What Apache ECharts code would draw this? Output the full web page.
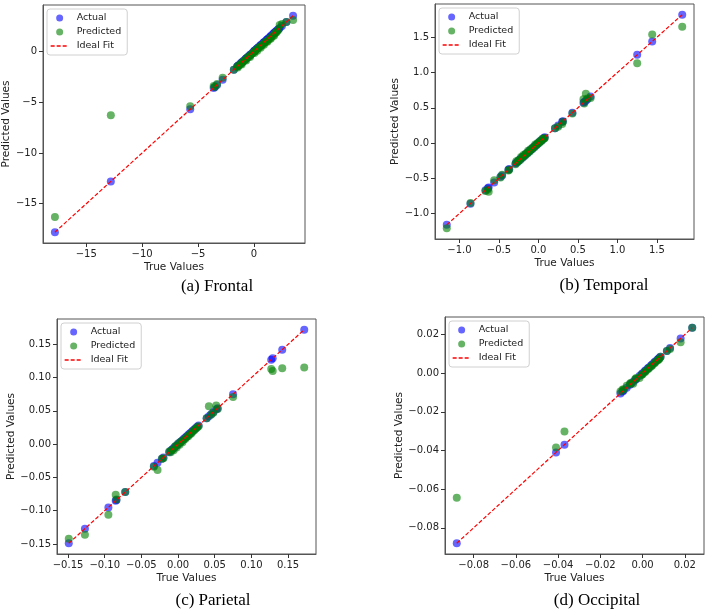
<!DOCTYPE html>
<html>
<head>
<meta charset="utf-8">
<script src="https://cdn.jsdelivr.net/npm/echarts@6/dist/echarts.min.js"></script>
<style>
    html, body { margin: 0; padding: 0; background: #fff; }
    #chart { width: 708px; height: 611px; }
</style>
</head>
<body>
<div id="chart"></div>
<script>
// (a) Frontal
var frontalTrue = [-17.8, -12.8, -5.7, -3.6, -3.5, -3.3, -2.8, -1.8, -1.5, -1.35, -1.2, -1.05, -0.9, -0.75, -0.6, -0.45, -0.3, -0.15, 0.0, 0.1, 0.25, 0.4, 0.55, 0.7, 0.85, 1.0, 1.15, 1.3, 1.45, 1.6, 1.75, 1.9, 2.1, 2.3, 2.5, 2.9, 3.5,
    -1.45, -1.1, -0.7, -0.35, 0.05, 0.3, 0.6, 0.9, 1.2, 1.5, 1.8, 2.0, 2.2];
var frontalPred = [-16.3, -6.3, -5.4, -3.4, -3.5, -3.2, -2.6, -1.8, -1.5, -1.4, -1.25, -1.1, -0.95, -0.8, -0.6, -0.5, -0.35, -0.2, -0.05, 0.05, 0.2, 0.35, 0.45, 0.6, 0.75, 0.9, 1.0, 1.15, 1.3, 1.45, 1.6, 1.8, 2.0, 2.6, 2.7, 2.9, 3.1,
    -1.6, -1.3, -0.9, -0.55, -0.15, 0.05, 0.35, 0.65, 0.95, 1.25, 1.55, 1.85, 2.15];
var frontalTicks = [-15, -10, -5, 0];

// (b) Temporal
var temporalTrue = [-1.16, -0.86, -0.67, -0.64, -0.63, -0.56, -0.48, -0.46, -0.38, -0.37, -0.29, -0.26, -0.23, -0.2, -0.17, -0.14, -0.11, -0.08, -0.05, -0.02, 0.01, 0.04, 0.07, 0.08, 0.21, 0.25, 0.30, 0.31, 0.43, 0.57, 0.58, 0.60, 0.62, 0.66, 1.25, 1.44, 1.82,
    -0.28, -0.25, -0.22, -0.19, -0.16, -0.13, -0.1, -0.07, -0.04, -0.01, 0.02, 0.05];
var temporalPred = [-1.21, -0.85, -0.68, -0.66, -0.69, -0.53, -0.49, -0.45, -0.39, -0.38, -0.30, -0.27, -0.24, -0.21, -0.18, -0.15, -0.12, -0.09, -0.06, -0.03, 0.0, 0.03, 0.06, 0.07, 0.21, 0.23, 0.27, 0.30, 0.42, 0.62, 0.56, 0.70, 0.63, 0.64, 1.13, 1.54, 1.65,
    -0.26, -0.24, -0.20, -0.17, -0.15, -0.11, -0.09, -0.06, -0.02, 0.0, 0.03, 0.06];
var temporalTicks = [-1.0, -0.5, 0.0, 0.5, 1.0, 1.5];

// (c) Parietal
var parietalTrue = [-0.149, -0.127, -0.095, -0.085, -0.084, -0.072, -0.033, -0.028, -0.022, -0.020, -0.012, -0.008, -0.004, 0.0, 0.004, 0.008, 0.012, 0.016, 0.020, 0.024, 0.028, 0.039, 0.042, 0.045, 0.048, 0.052, 0.054, 0.075, 0.127, 0.129, 0.142, 0.172,
    -0.010, -0.006, -0.002, 0.002, 0.006, 0.010, 0.014, 0.018, 0.022, 0.026];
var parietalPred = [-0.142, -0.136, -0.106, -0.076, -0.083, -0.072, -0.034, -0.039, -0.022, -0.021, -0.011, -0.008, -0.003, 0.001, 0.004, 0.007, 0.011, 0.015, 0.019, 0.023, 0.027, 0.039, 0.057, 0.044, 0.047, 0.058, 0.053, 0.071, 0.113, 0.110, 0.114, 0.115,
    -0.012, -0.009, -0.005, -0.001, 0.003, 0.008, 0.012, 0.016, 0.021, 0.025];
var parietalTicks = [-0.15, -0.10, -0.05, 0.0, 0.05, 0.10, 0.15];

// (d) Occipital
var occipitalTrue = [-0.088, -0.041, -0.037, -0.0105, -0.0095, -0.009, -0.006, -0.0045, -0.003, -0.0015, 0.0, 0.0015, 0.003, 0.0045, 0.006, 0.0075, 0.0085, 0.0115, 0.013, 0.018, 0.0235,
    -0.0075, -0.0055, -0.0035, -0.0005, 0.001, 0.0025, 0.004, 0.0055, 0.007, 0.008];
var occipitalPred = [-0.0645, -0.0385, -0.0302, -0.0095, -0.0085, -0.0085, -0.0055, -0.0055, -0.0025, -0.0025, -0.0005, 0.001, 0.0025, 0.004, 0.0055, 0.007, 0.0085, 0.0115, 0.0125, 0.016, 0.0235,
    -0.0065, -0.005, -0.003, -0.001, 0.0005, 0.002, 0.0035, 0.005, 0.0065, 0.0075];
var occipitalTicks = [-0.08, -0.06, -0.04, -0.02, 0.0, 0.02];

var captions = ['(a) Frontal', '(b) Temporal', '(c) Parietal', '(d) Occipital'];
var legendNames = ['Actual', 'Predicted', 'Ideal Fit'];

var SANS = 'DejaVu Sans';

var panels = [
    { t: frontalTrue, p: frontalPred, ticks: frontalTicks, digits: 0,
      grid: { left: 43, top: 5, width: 262, height: 238 }, yGap: 22, leg: [47, 9], cap: [217, 287] },
    { t: temporalTrue, p: temporalPred, ticks: temporalTicks, digits: 1,
      grid: { left: 435, top: 4, width: 259, height: 235 }, yGap: 25, leg: [439, 8], cap: [604, 286] },
    { t: parietalTrue, p: parietalPred, ticks: parietalTicks, digits: 2,
      grid: { left: 57, top: 319, width: 259, height: 235 }, yGap: 25, leg: [61, 323], cap: [213, 601] },
    { t: occipitalTrue, p: occipitalPred, ticks: occipitalTicks, digits: 2,
      grid: { left: 445, top: 317, width: 259, height: 237 }, yGap: 27, leg: [449, 321], cap: [597, 601] }
];

// matplotlib style 5% margins
function padRange(arr) {
    var mn = Math.min.apply(null, arr), mx = Math.max.apply(null, arr);
    var m = (mx - mn) * 0.05;
    return [mn - m, mx + m];
}

function tickFmt(digits) {
    return function (v) {
        var s = (Math.abs(v) < 1e-12 ? 0 : v).toFixed(digits);
        return s.replace('-', '\u2212');
    };
}

function axisBase(ticks, digits) {
    return {
        type: 'value',
        nameLocation: 'middle',
        nameTextStyle: { fontFamily: SANS, fontSize: 10.5, color: '#222' },
        axisLine: { show: true, onZero: false, lineStyle: { color: '#555', width: 1 } },
        axisTick: { show: true, inside: false, customValues: ticks, length: 4, lineStyle: { color: '#333', width: 1 } },
        axisLabel: { customValues: ticks, formatter: tickFmt(digits), fontFamily: SANS, fontSize: 10, color: '#222', margin: 6 },
        splitLine: { show: false }
    };
}

var grids = [], xAxes = [], yAxes = [], series = [], legends = [], graphics = [];

panels.forEach(function (pn, i) {
    var g = pn.grid;
    grids.push({ left: g.left, top: g.top, width: g.width, height: g.height,
        show: true, borderColor: '#555', borderWidth: 1 });

    var xr = padRange(pn.t);
    var yr = padRange(pn.t.concat(pn.p));

    var xa = axisBase(pn.ticks, pn.digits);
    xa.gridIndex = i; xa.min = xr[0]; xa.max = xr[1];
    xa.name = 'True Values'; xa.nameGap = 19;
    xAxes.push(xa);

    var ya = axisBase(pn.ticks, pn.digits);
    ya.gridIndex = i; ya.min = yr[0]; ya.max = yr[1];
    ya.name = 'Predicted Values'; ya.nameGap = pn.yGap;
    yAxes.push(ya);

    var mn = Math.min.apply(null, pn.t), mx = Math.max.apply(null, pn.t);

    series.push({
        type: 'scatter', name: 'Actual', xAxisIndex: i, yAxisIndex: i,
        data: pn.t.map(function (v) { return [v, v]; }),
        symbolSize: 8, itemStyle: { color: 'blue', opacity: 0.6 }, z: 2
    });
    series.push({
        type: 'scatter', name: 'Predicted', xAxisIndex: i, yAxisIndex: i,
        data: pn.t.map(function (v, k) { return [v, pn.p[k]]; }),
        symbolSize: 8, itemStyle: { color: 'green', opacity: 0.6 }, z: 3
    });
    series.push({
        type: 'line', name: 'Ideal Fit', xAxisIndex: i, yAxisIndex: i,
        data: [[mn, mn], [mx, mx]], symbol: 'none', showSymbol: false,
        lineStyle: { color: 'red', type: [4, 2], width: 1.2 }, itemStyle: { color: 'red' }, z: 4
    });

    legends.push({
        left: pn.leg[0], top: pn.leg[1], orient: 'vertical',
        data: [
            { name: legendNames[0], icon: 'circle' },
            { name: legendNames[1], icon: 'circle' },
            { name: legendNames[2], itemStyle: { opacity: 0 }, lineStyle: { color: 'red', type: [4, 2], width: 1.3 } }
        ],
        itemWidth: 18, itemHeight: 7, itemGap: 4,
        padding: [4, 6, 4, 3],
        borderColor: '#d0d0d0', borderWidth: 1, borderRadius: 3,
        backgroundColor: 'rgba(255,255,255,0.85)',
        textStyle: { fontFamily: SANS, fontSize: 9.5, color: '#222', padding: [0, 0, 0, 3] },
        selectedMode: false, z: 10
    });

    graphics.push({
        type: 'text', x: pn.cap[0], y: pn.cap[1],
        style: { text: captions[i], textAlign: 'center', textVerticalAlign: 'middle',
            font: '17px "Liberation Serif"', fill: '#000' }
    });
});

var chart = echarts.init(document.getElementById('chart'));
chart.setOption({
    animation: false,
    backgroundColor: '#fff',
    grid: grids,
    xAxis: xAxes,
    yAxis: yAxes,
    legend: legends,
    series: series,
    graphic: graphics
});
</script>
</body>
</html>
